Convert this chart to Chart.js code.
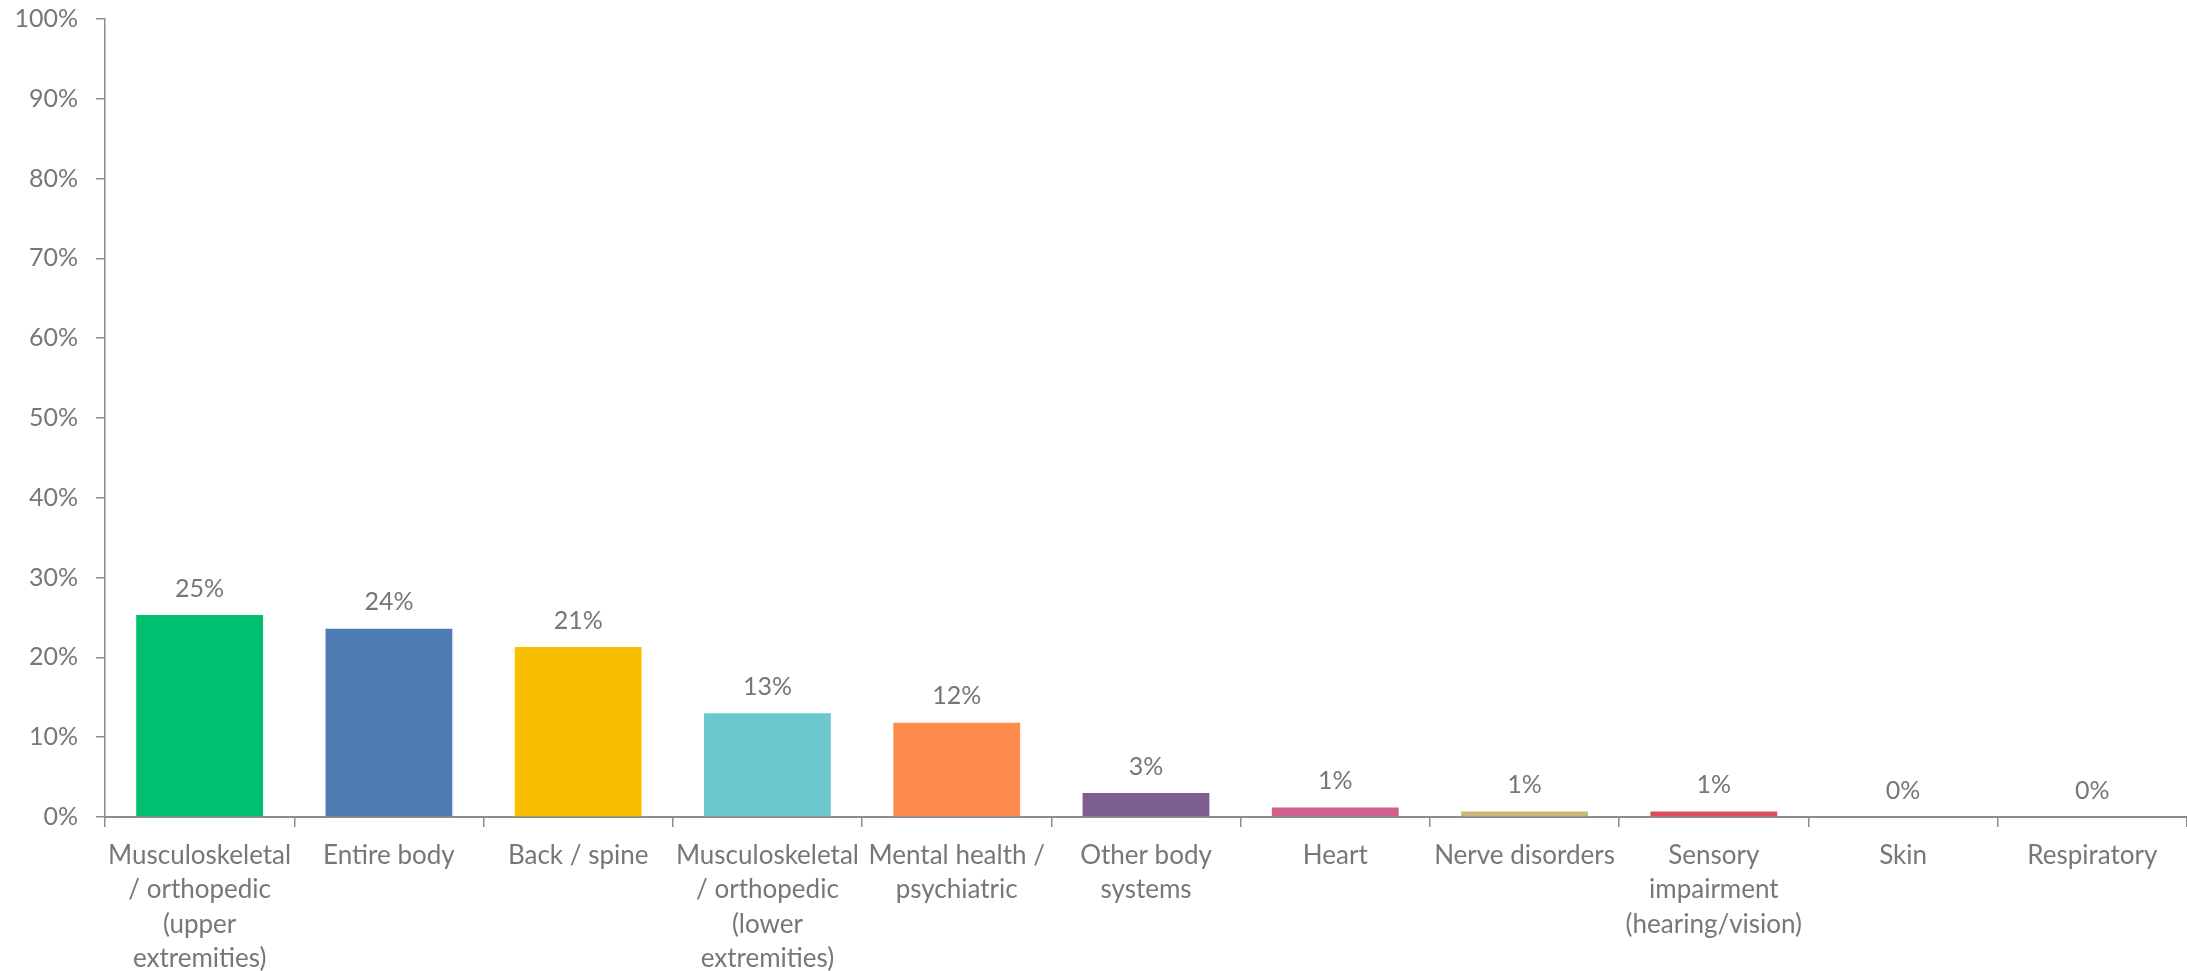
<!DOCTYPE html>
<html>
<head>
<meta charset="utf-8">
<script src="https://cdn.jsdelivr.net/npm/chart.js@4/dist/chart.umd.min.js"></script>
<style>
html,body{margin:0;padding:0;background:#fff;}
#wrap{width:2187px;height:971px;position:relative;}
</style>
</head>
<body>
<div id="wrap"><canvas id="c" width="2187" height="971"></canvas></div>
<script>
const categories = [
  ["Musculoskeletal", "/ orthopedic", "(upper", "extremities)"],
  ["Entire body"],
  ["Back / spine"],
  ["Musculoskeletal", "/ orthopedic", "(lower", "extremities)"],
  ["Mental health /", "psychiatric"],
  ["Other body", "systems"],
  ["Heart"],
  ["Nerve disorders"],
  ["Sensory", "impairment", "(hearing/vision)"],
  ["Skin"],
  ["Respiratory"]
];
const values = [25.3, 23.6, 21.3, 13.0, 11.8, 3.0, 1.2, 0.7, 0.7, 0, 0];
const valueLabels = ["25%", "24%", "21%", "13%", "12%", "3%", "1%", "1%", "1%", "0%", "0%"];
const barColors = ["#00BF6F", "#507CB6", "#F9BE00", "#6BC8CD", "#FF8B4F", "#7D5E90", "#D25F8C", "#C9B875", "#DB4D5C", "#8FA8C8", "#B0B0B0"];
const yTicks = [0, 10, 20, 30, 40, 50, 60, 70, 80, 90, 100];

const textColor = "#777777";
const axisColor = "#8c8c8c";
const fontFamily = "Lato, 'Open Sans', sans-serif";

const valueLabelPlugin = {
  id: "valueLabels",
  afterDatasetsDraw(chart) {
    const ctx = chart.ctx;
    const meta = chart.getDatasetMeta(0);
    ctx.save();
    ctx.fillStyle = textColor;
    ctx.font = "25px " + fontFamily;
    ctx.textAlign = "center";
    ctx.textBaseline = "bottom";
    meta.data.forEach((bar, i) => {
      ctx.fillText(valueLabels[i], bar.x, bar.y - 14);
    });
    ctx.restore();
  }
};

new Chart(document.getElementById("c"), {
  type: "bar",
  data: {
    labels: categories,
    datasets: [{
      data: values,
      backgroundColor: barColors,
      categoryPercentage: 0.67,
      barPercentage: 1.0,
      borderWidth: 0
    }]
  },
  options: {
    responsive: false,
    animation: false,
    devicePixelRatio: 1,
    layout: { padding: { top: 0, right: 0, bottom: 0, left: 0 } },
    plugins: { legend: { display: false }, tooltip: { enabled: false } },
    scales: {
      x: {
        afterFit(scale) { scale.height = 154; },
        grid: { display: true, drawOnChartArea: false, drawTicks: true, tickLength: 10, color: axisColor, lineWidth: 1.5, offset: true },
        border: { display: true, color: axisColor, width: 2 },
        ticks: {
          color: textColor,
          font: { family: fontFamily, size: 26, lineHeight: 1.31 },
          maxRotation: 0, minRotation: 0, autoSkip: false, padding: 12
        }
      },
      y: {
        min: 0, max: 100,
        afterBuildTicks(axis) { axis.ticks = yTicks.map(v => ({ value: v })); },
        afterFit(scale) { scale.paddingTop = 19; scale.paddingBottom = 0; scale.width = 105; },
        grid: { display: true, drawOnChartArea: false, drawTicks: true, tickLength: 9, color: axisColor, lineWidth: 1.5 },
        border: { display: true, color: axisColor, width: 1.5 },
        ticks: {
          color: textColor,
          font: { family: fontFamily, size: 25 },
          padding: 18,
          callback: v => v + "%"
        }
      }
    }
  },
  plugins: [valueLabelPlugin]
});
</script>
</body>
</html>
